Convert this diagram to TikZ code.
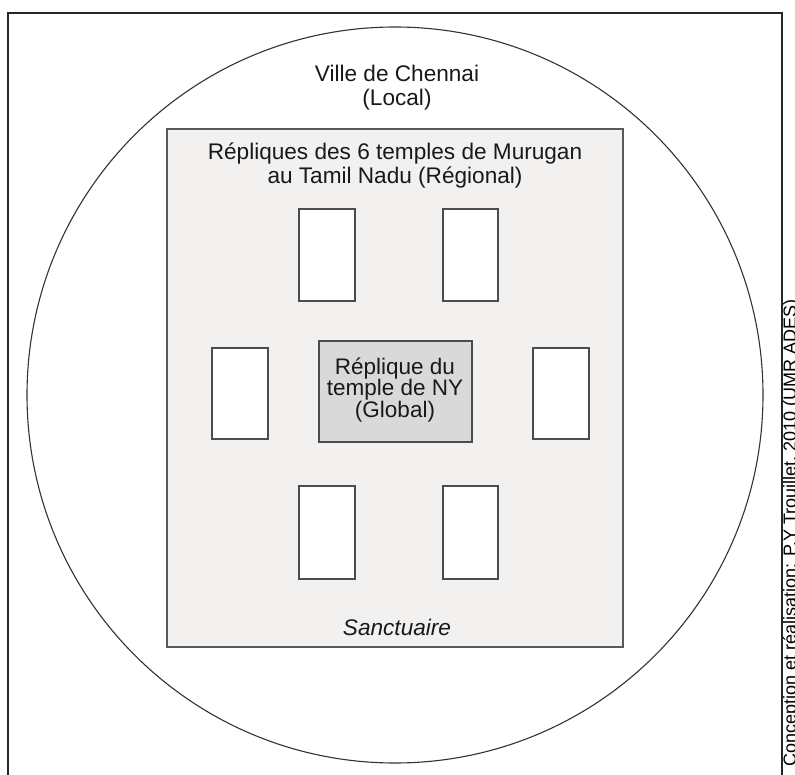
\documentclass[tikz,border=0pt]{standalone}
\usepackage{fontspec}
\setmainfont{Liberation Sans}
\definecolor{sanctfill}{HTML}{F2F1F0}
\definecolor{globfill}{HTML}{D9D9D9}
\definecolor{inkline}{HTML}{333333}
\begin{document}
\begin{tikzpicture}[x=1pt,y=-1pt,
  frame/.style={draw=black!85, line width=2pt},
  ring/.style={draw=inkline, line width=1.1pt},
  sanct/.style={draw=black!65, fill=sanctfill, line width=1.3pt},
  temple/.style={draw=black!70, fill=white, line width=1.1pt},
  globalbox/.style={draw=black!70, fill=globfill, line width=1.3pt},
  lbl/.style={font=\fontsize{22.6}{24}\selectfont, align=center, inner sep=0pt, text=black!90},
  credit/.style={font=\fontsize{18}{18}\selectfont, inner sep=0pt, text=black},
]
\clip (0,0) rectangle (795,775);
\fill[white] (0,0) rectangle (795,775);
% outer frame (open at the bottom edge of the picture)
\draw[frame] (8,13) rectangle (782,800);
% city circle
\draw[ring] (395,395) circle (368);
% sanctuary
\draw[sanct] (167,129) rectangle (623,647);
% six temples
\draw[temple] (299,209) rectangle (355,301);
\draw[temple] (443,209) rectangle (498,301);
\draw[temple] (212,348) rectangle (268,439);
\draw[temple] (533,348) rectangle (589,439);
\draw[temple] (299,486) rectangle (355,579);
\draw[temple] (443,486) rectangle (498,579);
% NY temple replica
\draw[globalbox] (319,341) rectangle (472,442);
% labels
\node[lbl] (city) at (397,88) {Ville de Chennai\\(Local)};
\node[lbl] (regional) at (395,166) {Répliques des 6 temples de Murugan\\au Tamil Nadu (Régional)};
\node[lbl, font=\fontsize{22.5}{21.5}\selectfont] (global) at (395,390) {Réplique du\\temple de NY\\(Global)};
\node[lbl, font=\fontsize{22.6}{24}\selectfont\itshape] (sanctuaire) at (397,627) {Sanctuaire};
\node[credit, rotate=90, anchor=base] (credit) at (796,533) {Conception et réalisation: P.Y Trouillet, 2010 (UMR ADES)};
\end{tikzpicture}
\end{document}
